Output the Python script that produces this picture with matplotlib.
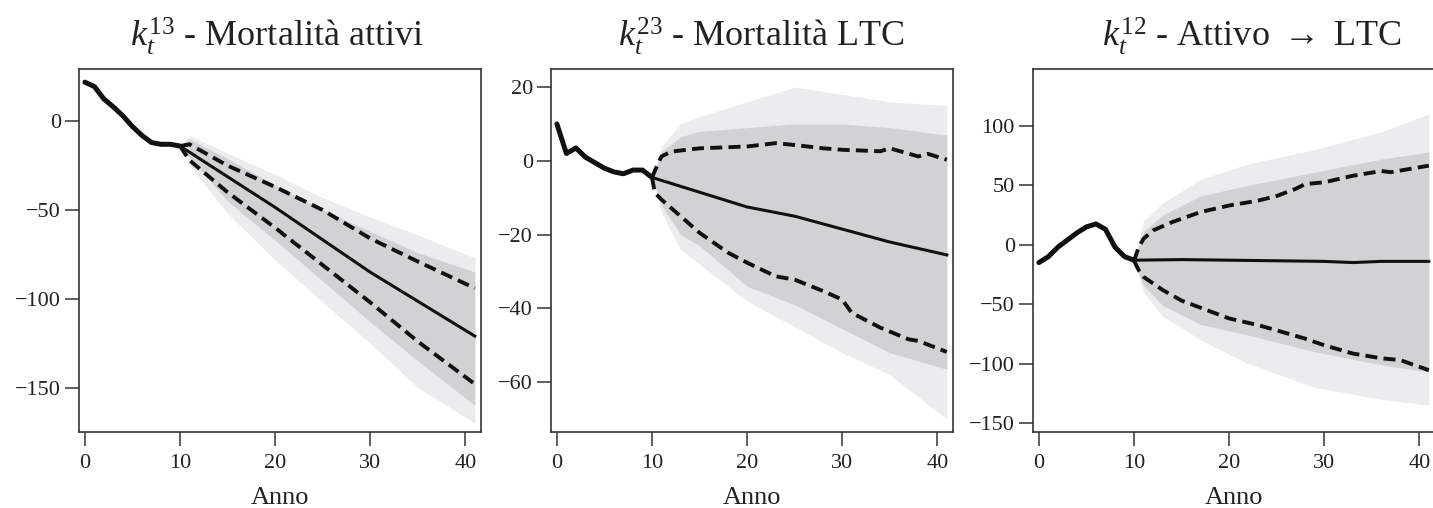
import numpy as np
import matplotlib.pyplot as plt

plt.rcParams['font.family'] = ['Liberation Serif', 'DejaVu Serif']
plt.rcParams['mathtext.fontset'] = 'custom'
plt.rcParams['mathtext.rm'] = 'Liberation Serif'
plt.rcParams['mathtext.it'] = 'Liberation Serif:italic'

hist_years = list(range(11))

# k13 - mortalita attivi
k13_hist = [22, 19.5, 12.5, 8, 3, -3, -8, -12, -13, -13, -14]
k13_med_years = [10, 20, 30, 41]
k13_med = [-14, -48.5, -85, -121]
k13_q_years = [10, 11, 15, 20, 25, 30, 35, 41]
k13_hi = [-14, -13, -25, -37, -50, -66, -79, -94]
k13_lo = [-14, -22, -40, -60, -81, -102, -124, -148]
k13_cloud_years = [10, 11, 15, 20, 25, 30, 35, 41]
k13_dense_hi = [-14, -10, -21, -36, -50, -62, -74, -85]
k13_dense_lo = [-14, -20, -45, -67, -90, -113, -135, -160]
k13_sparse_hi = [-14, -8, -18, -30, -43, -54, -64, -77]
k13_sparse_lo = [-14, -25, -52, -78, -102, -125, -150, -170]

# k23 - mortalita LTC
k23_hist = [10, 2, 3.5, 1, -0.5, -2, -3, -3.5, -2.5, -2.5, -4.5]
k23_med_years = [10, 15, 20, 25, 30, 35, 41]
k23_med = [-4.5, -8.5, -12.5, -15, -18.5, -22, -25.5]
k23_hi_years = [10, 10.5, 11, 12, 15, 20, 23, 25, 28, 30, 34, 35, 38, 39, 41]
k23_hi = [-4.5, -1.5, 1.2, 2.5, 3.4, 3.9, 4.8, 4.3, 3.4, 3, 2.6, 3.4, 1.2, 1.9, 0.3]
k23_lo_years = [10, 10.3, 11, 13, 15, 18, 20, 23, 25, 28, 30, 31, 34, 37, 38, 41]
k23_lo = [-4.5, -8.7, -10.5, -15, -19.5, -24.9, -27.6, -31.3, -32.2, -35.3,
          -37.6, -41.2, -45.2, -48.4, -48.8, -51.8]
k23_cloud_years = [10, 11, 13, 15, 20, 25, 30, 35, 41]
k23_dense_hi = [-4.5, 2.5, 6.5, 8, 9, 10, 10, 9, 7]
k23_dense_lo = [-4.5, -12, -20, -23, -34, -39, -45.5, -52, -56.5]
k23_sparse_hi = [-4.5, 4, 10, 12, 16, 20, 18, 16, 15]
k23_sparse_lo = [-4.5, -14, -24, -28, -38, -45, -52, -58, -70]

# k12 - attivo -> LTC
k12_hist = [-15, -10, -2, 4, 10, 15, 17.5, 13, -2, -10, -13]
k12_med_years = [10, 15, 20, 25, 30, 33, 36, 41]
k12_med = [-13, -12.5, -13, -13.5, -14, -15, -14, -14]
k12_hi_years = [10, 10.5, 11, 12, 14, 17, 20, 23, 25, 27, 28, 30, 33, 36, 37, 41]
k12_hi = [-13.5, -2, 5, 12, 19, 27.5, 33, 37, 41, 47, 51, 52.5, 58, 62, 61, 66.5]
k12_lo_years = [10, 10.5, 11, 13, 15, 18, 20, 23, 25, 28, 30, 33, 36, 38, 41]
k12_lo = [-13.5, -21.5, -27, -38, -47, -56, -62, -67.5, -72, -79, -84.5,
          -91.5, -95.5, -97, -105.5]
k12_cloud_years = [10, 11, 13, 17, 22, 29, 36, 41]
k12_dense_hi = [-13.5, 11, 25, 41, 50, 61, 72, 78]
k12_dense_lo = [-13.5, -34, -51, -67, -76, -90, -101, -107]
k12_sparse_hi = [-13.5, 20, 35, 55, 68, 80, 95, 110]
k12_sparse_lo = [-13.5, -40, -60, -80, -100, -120, -130, -135]

panels = [
    dict(title=r'$k_t^{13}$ - Mortalità attivi', tx=0.493,
         hist=k13_hist, my=k13_med_years, med=k13_med,
         hy=k13_q_years, hi=k13_hi, ly=k13_q_years, lo=k13_lo,
         cy=k13_cloud_years, dhi=k13_dense_hi, dlo=k13_dense_lo,
         shi=k13_sparse_hi, slo=k13_sparse_lo,
         ylim=(-175, 29.4), yticks=[0, -50, -100, -150], left=79),
    dict(title=r'$k_t^{23}$ - Mortalità LTC', tx=0.522,
         hist=k23_hist, my=k23_med_years, med=k23_med,
         hy=k23_hi_years, hi=k23_hi, ly=k23_lo_years, lo=k23_lo,
         cy=k23_cloud_years, dhi=k23_dense_hi, dlo=k23_dense_lo,
         shi=k23_sparse_hi, slo=k23_sparse_lo,
         ylim=(-73.5, 24.9), yticks=[20, 0, -20, -40, -60], left=551),
    dict(title=r'$k_t^{12}$ - Attivo $\rightarrow$ LTC', tx=0.545,
         hist=k12_hist, my=k12_med_years, med=k12_med,
         hy=k12_hi_years, hi=k12_hi, ly=k12_lo_years, lo=k12_lo,
         cy=k12_cloud_years, dhi=k12_dense_hi, dlo=k12_dense_lo,
         shi=k12_sparse_hi, slo=k12_sparse_lo,
         ylim=(-157.5, 147.8), yticks=[100, 50, 0, -50, -100, -150], left=1033),
]

W, H = 1433, 508
fig = plt.figure(figsize=(W / 100, H / 100), dpi=100)

for p in panels:
    ax = fig.add_axes([p['left'] / W, 1 - 432 / H, 402 / W, (432 - 69) / H])
    ax.fill_between(p['cy'], p['slo'], p['shi'], color='#ececee', lw=0)
    ax.fill_between(p['cy'], p['dlo'], p['dhi'], color='#d2d2d4', lw=0)
    ax.plot(hist_years, p['hist'], color='#111111', lw=3.6,
            solid_capstyle='round', solid_joinstyle='round')
    ax.plot(p['my'], p['med'], color='#111111', lw=2.2)
    for yy, vv in [(p['hy'], p['hi']), (p['ly'], p['lo'])]:
        ln, = ax.plot(yy, vv, color='#111111', lw=2.8)
        ln.set_dashes([3.1, 1.6])
    ax.set_xlim(-0.62, 41.65)
    ax.set_ylim(*p['ylim'])
    ax.set_xticks([0, 10, 20, 30, 40])
    ax.set_yticks(p['yticks'])
    ax.set_yticklabels([str(t).replace('-', '\u2212') for t in p['yticks']])
    ax.tick_params(length=10, width=1.1, color='#333333', labelsize=16,
                   labelcolor='#222222')
    ax.tick_params(axis='x', pad=6)
    ax.tick_params(axis='y', pad=3)
    for s in ax.spines.values():
        s.set_linewidth(1.2)
        s.set_color('#333333')
    ax.set_xlabel('Anno', fontsize=19, color='#222222', labelpad=10)
    ax.set_title(p['title'], fontsize=26, color='#222222', pad=16, x=p['tx'])

fig.savefig('out.png', dpi=100)
